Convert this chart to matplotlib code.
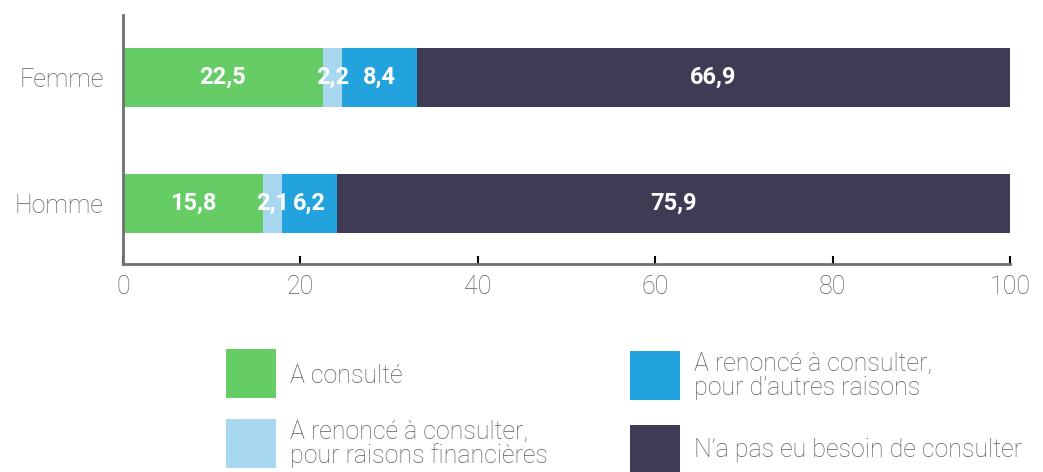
import matplotlib.pyplot as plt
from matplotlib.patches import Rectangle
import numpy as np

# data
groups = ["Homme", "Femme"]
series_names = [
    "A consulté",
    "A renoncé à consulter,\npour raisons financières",
    "A renoncé à consulter,\npour d’autres raisons",
    "N’a pas eu besoin de consulter",
]
consulte = [15.8, 22.5]
renonce_fin = [2.1, 2.2]
renonce_autres = [6.2, 8.4]
pas_besoin = [75.9, 66.9]
colors = ["#66cd66", "#a8d8ef", "#22a3dd", "#403b54"]
xticks = [0, 20, 40, 60, 80, 100]

plt.rcParams['font.family'] = ['Roboto', 'DejaVu Sans']
grey = "#5e5e5e"

fig = plt.figure(figsize=(10.43, 4.72), dpi=100)
ax = fig.add_axes([123 / 1043, 1 - 264 / 472, 887 / 1043, 249 / 472])

ypos = np.arange(len(groups))
left = np.zeros(len(groups))
for vals, col in zip([consulte, renonce_fin, renonce_autres, pas_besoin], colors):
    vals = np.array(vals)
    ax.barh(ypos, vals, left=left, height=0.468, color=col, linewidth=0)
    for y, l, v in zip(ypos, left, vals):
        ax.text(l + v / 2, y, f"{v:.1f}".replace(".", ","), ha="center", va="center",
                color="white", fontsize=17, fontweight="bold")
    left += vals

ax.set_xlim(0, 100)
ax.set_ylim(-0.48, 1.496)
ax.set_xticks(xticks)
ax.set_xticklabels([str(t) for t in xticks])
ax.set_yticks(ypos)
ax.set_yticklabels(groups)
for s in ["top", "right"]:
    ax.spines[s].set_visible(False)
for s in ["left", "bottom"]:
    ax.spines[s].set_color("#707070")
    ax.spines[s].set_linewidth(2)
ax.tick_params(axis="x", direction="in", length=6, width=1.5, color="black",
               labelsize=18, labelcolor=grey, pad=8)
ax.tick_params(axis="y", length=0, labelsize=18, labelcolor=grey, pad=14)
for lab in ax.get_xticklabels() + ax.get_yticklabels():
    lab.set_fontweight("light")

# legend, drawn by hand in figure pixels
W, H = 1043, 472
legend_boxes = [(226, 349), (226, 419), (630, 351), (630, 425)]
legend_text_y = [376, 444, 376, 450]
for (bx, by), ty, col, name in zip(legend_boxes, legend_text_y, colors, series_names):
    fig.add_artist(Rectangle((bx / W, 1 - (by + 49) / H), 50 / W, 49 / H,
                             transform=fig.transFigure, color=col, linewidth=0))
    fig.text((bx + 64) / W, 1 - ty / H, name, ha="left", va="center", fontsize=18,
             color=grey, fontweight="light", linespacing=1.0)

fig.savefig("out.png", dpi=100)
